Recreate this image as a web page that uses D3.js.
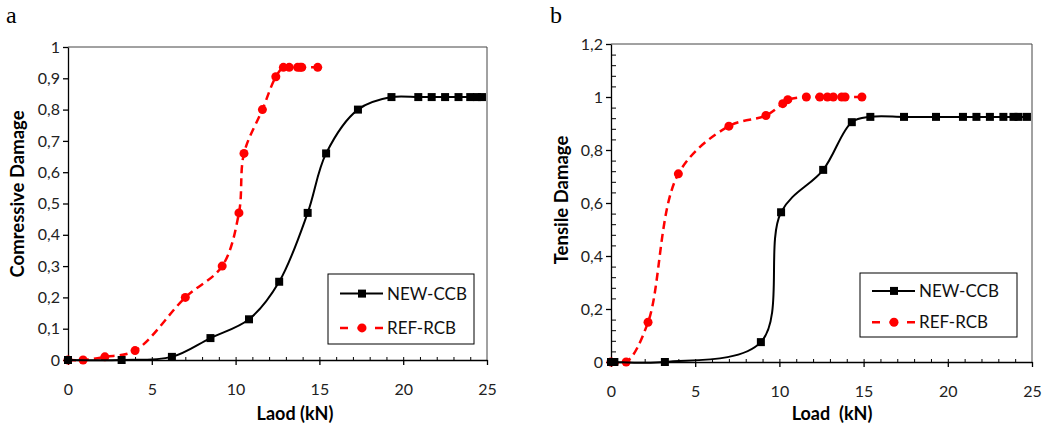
<!DOCTYPE html>
<html>
<head>
<meta charset="utf-8">
<script src="https://cdn.jsdelivr.net/npm/d3@7"></script>
<style>
  body { margin: 0; background: #fff; }
  svg { display: block; }
  .tick text { font-family: Lato, sans-serif; font-size: 16px; fill: #222; }
</style>
</head>
<body>
<svg width="1046" height="428"></svg>
<script>
// panel a: compressive damage vs load
const compLoadNew = [0, 3.2, 6.2, 8.5, 10.8, 12.6, 14.3, 15.4, 17.3, 19.3, 20.9, 21.7, 22.5, 23.3, 24.0, 24.4, 24.7];
const compNew     = [0, 0, 0.01, 0.07, 0.13, 0.25, 0.47, 0.66, 0.80, 0.84, 0.84, 0.84, 0.84, 0.84, 0.84, 0.84, 0.84];
const compLoadRef = [0, 0.9, 2.2, 4.0, 7.0, 9.2, 10.2, 10.5, 11.6, 12.4, 12.85, 13.2, 13.7, 13.85, 13.95, 14.9];
const compRef     = [0, 0, 0.01, 0.03, 0.20, 0.30, 0.47, 0.66, 0.80, 0.905, 0.935, 0.935, 0.935, 0.935, 0.935, 0.935];

// panel b: tensile damage vs load
const tensLoadNew = [0, 0.2, 3.2, 8.9, 10.1, 12.6, 14.3, 15.4, 17.4, 19.3, 20.9, 21.7, 22.5, 23.3, 23.9, 24.2, 24.7];
const tensNew     = [0, 0, 0, 0.075, 0.565, 0.725, 0.905, 0.925, 0.925, 0.925, 0.925, 0.925, 0.925, 0.925, 0.925, 0.925, 0.925];
const tensLoadRef = [0, 0.9, 2.2, 4.0, 7.0, 9.2, 10.2, 10.5, 11.6, 12.4, 12.85, 13.2, 13.7, 13.9, 14.9];
const tensRef     = [0, 0, 0.15, 0.71, 0.89, 0.93, 0.975, 0.99, 1.0, 1.0, 1.0, 1.0, 1.0, 1.0, 1.0];

const seriesNames = ["NEW-CCB", "REF-RCB"];
const xTicks = [0, 5, 10, 15, 20, 25];
const compTicks = [0, 0.1, 0.2, 0.3, 0.4, 0.5, 0.6, 0.7, 0.8, 0.9, 1];
const tensTicks = [0, 0.2, 0.4, 0.6, 0.8, 1, 1.2];

const svg = d3.select("svg");
const comma = d => String(d).replace(".", ",");
const zip = (xs, ys) => xs.map((x, i) => [x, ys[i]]);

const drawPanel = (p) => {
   const g = svg.append("g");
   const x = d3.scaleLinear().domain([0, 25]).range([p.left, p.right]);
   const y = d3.scaleLinear().domain([0, p.yMax]).range([p.bottom, p.top]);

   // frame top/right
   g.append("path")
      .attr("d", `M${p.left},${p.top}H${p.right}V${p.bottom}`)
      .attr("fill", "none").attr("stroke", "#444").attr("stroke-width", 1);

   // minor x ticks (inside)
   g.append("g")
      .attr("transform", `translate(0,${p.bottom})`)
      .call(d3.axisBottom(x).tickValues(d3.range(1, 25)).tickSize(-3).tickFormat(""))
      .call(a => a.select(".domain").remove());
   if (p.minorY) {
      g.append("g")
         .attr("transform", `translate(${p.left},0)`)
         .call(d3.axisLeft(y).tickValues(p.minorY).tickSize(-5).tickFormat(""))
         .call(a => a.select(".domain").remove());
   }

   g.append("g")
      .attr("transform", `translate(0,${p.bottom})`)
      .call(d3.axisBottom(x).tickValues(xTicks).tickSizeInner(5).tickSizeOuter(0).tickPadding(19))
      .call(a => a.selectAll("line, .domain").attr("stroke", "#000").attr("stroke-width", 1.3));

   g.append("g")
      .attr("transform", `translate(${p.left},0)`)
      .call(d3.axisLeft(y).tickValues(p.yTicks).tickSizeInner(5).tickSizeOuter(0).tickPadding(3).tickFormat(comma))
      .call(a => a.selectAll("line, .domain").attr("stroke", "#000").attr("stroke-width", 1.3));

   const line = d3.line().x(d => x(d[0])).y(d => y(d[1])).curve(d3.curveCatmullRom.alpha(0.5));

   const ref = zip(p.refX, p.refY);
   const nw = zip(p.newX, p.newY);

   g.append("path").datum(ref).attr("d", line)
      .attr("fill", "none").attr("stroke", "#ff0000").attr("stroke-width", 2.5).attr("stroke-dasharray", "8,5");
   g.append("g").selectAll("circle").data(ref).enter().append("circle")
      .attr("cx", d => x(d[0])).attr("cy", d => y(d[1])).attr("r", 4.5).attr("fill", "#ff0000");

   g.append("path").datum(nw).attr("d", line)
      .attr("fill", "none").attr("stroke", "#000").attr("stroke-width", 2);
   g.append("g").selectAll("rect").data(nw).enter().append("rect")
      .attr("x", d => x(d[0]) - 4).attr("y", d => y(d[1]) - 4).attr("width", 8).attr("height", 8).attr("fill", "#000");

   // legend
   const lg = g.append("g").attr("transform", `translate(${p.legend[0]},${p.legend[1]})`);
   lg.append("rect").attr("width", p.legend[2]).attr("height", p.legend[3])
      .attr("fill", "#fff").attr("stroke", "#000").attr("stroke-width", 1);
   const rowY = [p.legend[3] * 0.28, p.legend[3] * 0.77];
   lg.append("line").attr("x1", 12).attr("x2", 55).attr("y1", rowY[0]).attr("y2", rowY[0])
      .attr("stroke", "#000").attr("stroke-width", 2);
   lg.append("rect").attr("x", 30).attr("y", rowY[0] - 4).attr("width", 8).attr("height", 8).attr("fill", "#000");
   lg.append("line").attr("x1", 12).attr("x2", 55).attr("y1", rowY[1]).attr("y2", rowY[1])
      .attr("stroke", "#ff0000").attr("stroke-width", 2.5).attr("stroke-dasharray", "8,9.5");
   lg.append("circle").attr("cx", 34).attr("cy", rowY[1]).attr("r", 4.5).attr("fill", "#ff0000");
   lg.selectAll("text").data(seriesNames).enter().append("text")
      .attr("x", 59).attr("y", (d, i) => rowY[i]).attr("dy", "0.36em")
      .attr("font-family", "Lato, sans-serif").attr("font-size", 17).attr("fill", "#111")
      .text(d => d);

   // titles
   g.append("text").attr("x", p.xTitle[0]).attr("y", p.xTitle[1])
      .attr("text-anchor", "middle").attr("font-family", "Lato, sans-serif")
      .attr("font-weight", "bold").attr("font-size", 18).style("white-space", "pre")
      .text(p.xLabel);
   g.append("text").attr("transform", `translate(${p.yTitle[0]},${p.yTitle[1]}) rotate(-90)`)
      .attr("text-anchor", "middle").attr("font-family", "Lato, sans-serif")
      .attr("font-weight", "bold").attr("font-size", 18.5)
      .text(p.yLabel);
   g.append("text").attr("x", p.tag[0]).attr("y", p.tag[1])
      .attr("font-family", "'Liberation Serif', 'Times New Roman', serif").attr("font-size", 24)
      .text(p.tagText);
};

drawPanel({
   left: 68, right: 487, top: 47, bottom: 360, yMax: 1,
   yTicks: compTicks, minorY: null,
   newX: compLoadNew, newY: compNew, refX: compLoadRef, refY: compRef,
   legend: [328, 274, 146, 70],
   xTitle: [295, 420], xLabel: "Laod (kN)",
   yTitle: [24, 194], yLabel: "Comressive Damage",
   tag: [6, 23], tagText: "a"
});

drawPanel({
   left: 611, right: 1032, top: 44, bottom: 362, yMax: 1.2,
   yTicks: tensTicks, minorY: d3.range(0, 61).map(i => i * 0.04).filter((v, i) => i % 5 !== 0 && v < 1.2),
   newX: tensLoadNew, newY: tensNew, refX: tensLoadRef, refY: tensRef,
   legend: [860, 273, 157, 64],
   xTitle: [832, 420], xLabel: "Load  (kN)",
   yTitle: [568, 200], yLabel: "Tensile Damage",
   tag: [550, 23], tagText: "b"
});
</script>
</body>
</html>
